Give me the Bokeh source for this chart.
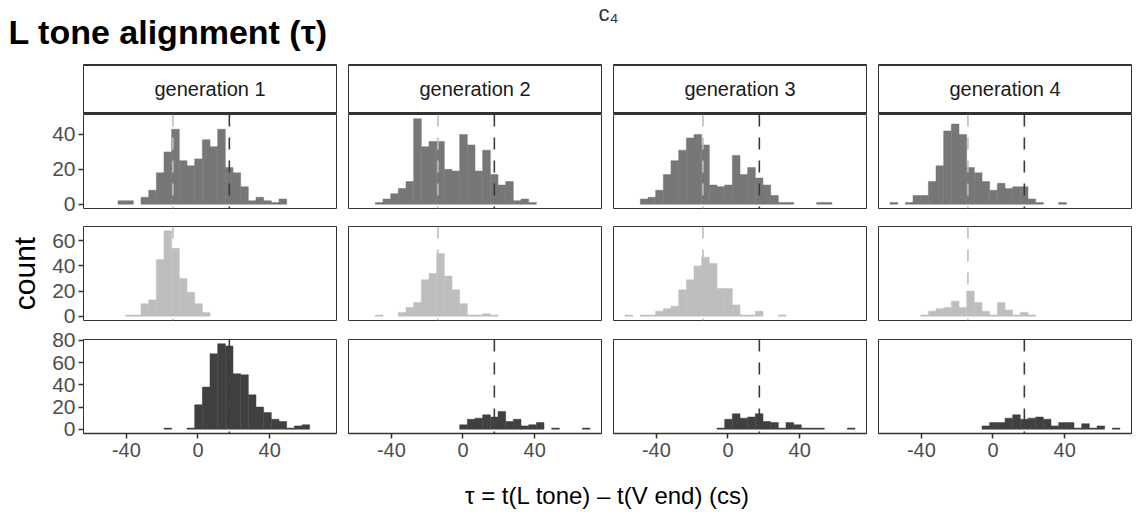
import numpy as np
from bokeh.plotting import figure
from bokeh.models import Range1d, FixedTicker, Span, ColumnDataSource
from bokeh.layouts import row, column
from bokeh.embed import file_html
from bokeh.resources import INLINE
from bokeh.core.properties import value

# ---------------- data ----------------
title_text = "L tone alignment (τ)"
corner_text = "c₄"
x_label = "τ = t(L tone) – t(V end) (cs)"
y_label = "count"
generations = ["generation 1", "generation 2", "generation 3", "generation 4"]
x_ticks = [-40, 0, 40]
y_ticks_top = [0, 20, 40]
y_ticks_mid = [0, 20, 40, 60]
y_ticks_bot = [0, 20, 40, 60, 80]

bin_start = -57.5
bin_width = 4.28
n_bins = 30
light_ref = -14.0   # light dashed reference line
dark_ref = 17.5     # dark dashed reference line

#            0  1  2  3  4  5  6  7  8  9 10 11 12 13 14 15 16 17 18 19 20 21 22 23 24 25 26 27 28 29
top_g1 = [0, 0, 0, 2, 2, 0, 4, 8, 18, 30, 43, 25, 22, 26, 37, 33, 43, 21, 18, 10, 2, 4, 2, 1, 3, 0, 0, 0, 0, 0]
top_g2 = [0, 0, 1, 3, 6, 9, 13, 49, 33, 36, 36, 20, 19, 40, 34, 19, 31, 17, 11, 13, 2, 3, 1, 0, 0, 0, 0, 0, 0, 0]
top_g3 = [0, 0, 3, 4, 8, 17, 25, 31, 38, 40, 34, 11, 10, 11, 28, 17, 21, 15, 11, 5, 1, 1, 0, 0, 0, 1, 1, 0, 0, 0]
top_g4 = [1, 0, 1, 5, 5, 13, 22, 42, 46, 40, 21, 18, 13, 8, 12, 9, 10, 10, 3, 1, 0, 0, 1, 0, 0, 0, 0, 0, 0, 0]

mid_g1 = [0, 0, 0, 0, 1, 1, 10, 13, 45, 68, 54, 30, 19, 10, 3, 0, 0, 0, 0, 0, 0, 0, 0, 0, 0, 0, 0, 0, 0, 0]
mid_g2 = [0, 0, 1, 0, 0, 3, 7, 11, 29, 34, 50, 32, 21, 10, 1, 1, 2, 1, 0, 0, 0, 0, 0, 0, 0, 0, 0, 0, 0, 0]
mid_g3 = [1, 0, 1, 1, 4, 6, 8, 21, 29, 40, 47, 42, 22, 22, 9, 1, 1, 4, 0, 0, 1, 0, 0, 0, 0, 0, 0, 0, 0, 0]
mid_g4 = [0, 0, 0, 0, 1, 4, 6, 7, 12, 7, 20, 11, 4, 1, 11, 5, 1, 3, 1, 0, 0, 0, 0, 0, 0, 0, 0, 0, 0, 0]

bot_g1 = [0, 0, 0, 0, 0, 0, 0, 0, 0, 1, 0, 0, 1, 22, 38, 68, 77, 75, 50, 49, 31, 20, 15, 9, 7, 1, 3, 4, 0, 0]
bot_g2 = [0, 0, 0, 0, 0, 0, 0, 0, 0, 0, 0, 0, 0, 4, 9, 10, 13, 11, 16, 7, 9, 3, 4, 6, 0, 1, 0, 0, 0, 1]
bot_g3 = [0, 0, 0, 0, 0, 0, 0, 0, 0, 0, 0, 0, 1, 9, 14, 10, 11, 14, 7, 6, 1, 6, 4, 1, 1, 1, 0, 0, 0, 1]
bot_g4 = [0, 0, 0, 0, 0, 0, 0, 0, 0, 0, 0, 0, 3, 6, 6, 10, 13, 9, 10, 11, 9, 3, 6, 6, 1, 5, 1, 3, 0, 1]

rows_counts = [
    [top_g1, top_g2, top_g3, top_g4],
    [mid_g1, mid_g2, mid_g3, mid_g4],
    [bot_g1, bot_g2, bot_g3, bot_g4],
]
rows_ticks = [y_ticks_top, y_ticks_mid, y_ticks_bot]
row_colors = ["#777777", "#BEBEBE", "#404040"]
rows_refs = [[(light_ref, "#BEBEBE"), (dark_ref, "#3A3A3A")],
             [(light_ref, "#BEBEBE")],
             [(dark_ref, "#3A3A3A")]]

# ---------------- layout constants ----------------
FONT = "Liberation Sans"
edges = bin_start + bin_width * np.arange(n_bins + 1)
span_x = edges[-1] - edges[0]
x_range = Range1d(edges[0] - 0.05 * span_x, edges[-1] + 0.05 * span_x)

col_widths = [342, 265, 265, 265]
col_left = [83, 6, 6, 6]
row_heights = [104, 111, 147]
row_top = [0, 8, 10]
row_bottom = [10, 9, 43]


def bare(fig):
    fig.grid.visible = False
    fig.background_fill_color = "white"
    fig.border_fill_color = "white"
    return fig


# header
header = figure(width=1139, height=62, x_range=Range1d(0, 1139), y_range=Range1d(62, 0),
                x_axis_location=None, y_axis_location=None, min_border=0,
                output_backend="svg", toolbar_location=None)
bare(header)
header.outline_line_color = None
header.text(x=[8], y=[31], text=[title_text], text_font=value(FONT), text_font_style="bold",
            text_font_size="34px", text_color="black", text_baseline="middle", text_align="left")
header.text(x=[598], y=[13], text=[corner_text], text_font=value(FONT),
            text_font_size="22px", text_color="#333333", text_baseline="middle", text_align="left")

# strips
strips = []
for ci, g in enumerate(generations):
    s = figure(width=col_widths[ci], height=52, x_range=Range1d(0, 1), y_range=Range1d(0, 1),
               x_axis_location=None, y_axis_location=None,
               min_border_left=col_left[ci], min_border_right=6, min_border_top=2, min_border_bottom=1,
               output_backend="svg", toolbar_location=None)
    bare(s)
    s.outline_line_color = "#333333"
    s.outline_line_width = 1
    s.add_layout(Span(location=0, dimension="width", line_color="#333333", line_width=3))
    s.add_layout(Span(location=1, dimension="width", line_color="#333333", line_width=3))
    s.text(x=[0.5], y=[0.5], text=[g], text_font=value(FONT), text_font_size="20px",
           text_color="#1A1A1A", text_align="center", text_baseline="middle")
    strips.append(s)

# panels
panel_rows = []
for ri in range(3):
    M = max(max(c) for c in rows_counts[ri])
    y_range = Range1d(-0.05 * M, 1.05 * M)
    figs = []
    for ci in range(4):
        counts = np.array(rows_counts[ri][ci])
        p = figure(width=col_widths[ci], height=row_heights[ri], x_range=x_range, y_range=y_range,
                   x_axis_location="below" if ri == 2 else None,
                   y_axis_location="left" if ci == 0 else None,
                   min_border_left=col_left[ci], min_border_right=6,
                   min_border_top=row_top[ri], min_border_bottom=row_bottom[ri],
                   output_backend="svg", toolbar_location=None)
        bare(p)
        p.outline_line_color = "#333333"
        p.outline_line_width = 1
        mask = counts > 0
        src = ColumnDataSource(dict(left=edges[:-1][mask], right=edges[1:][mask], top=counts[mask]))
        p.quad(left="left", right="right", bottom=0, top="top", source=src,
               fill_color=row_colors[ri], line_color=row_colors[ri], line_width=0.5)
        for loc, col in rows_refs[ri]:
            p.add_layout(Span(location=loc, dimension="height", line_color=col,
                              line_width=1.6, line_dash="12 11"))
        if ci == 0:
            ax = p.yaxis[0]
            ax.ticker = FixedTicker(ticks=rows_ticks[ri])
            ax.major_tick_out = 5
            ax.major_tick_in = 0
            ax.minor_tick_line_color = None
            ax.axis_line_color = None
            ax.major_tick_line_color = "#333333"
            ax.major_tick_line_width = 1.5
            ax.major_label_text_font = FONT
            ax.major_label_text_font_size = "21px"
            ax.major_label_text_color = "#4D4D4D"
            ax.major_label_standoff = 3
            if ri == 1:
                ax.axis_label = y_label
                ax.axis_label_text_font = FONT
                ax.axis_label_text_font_size = "30px"
                ax.axis_label_text_font_style = "normal"
                ax.axis_label_text_color = "black"
                ax.axis_label_standoff = 8
        if ri == 2:
            ax = p.xaxis[0]
            ax.ticker = FixedTicker(ticks=x_ticks)
            ax.major_label_overrides = {t: str(t) for t in x_ticks}
            ax.major_tick_out = 5
            ax.major_tick_in = 0
            ax.minor_tick_line_color = None
            ax.axis_line_color = "#333333"
            ax.axis_line_width = 1.5
            ax.major_tick_line_color = "#333333"
            ax.major_tick_line_width = 1.5
            ax.major_label_text_font = FONT
            ax.major_label_text_font_size = "20px"
            ax.major_label_text_color = "#4D4D4D"
            ax.major_label_standoff = 4
        figs.append(p)
    panel_rows.append(figs)

# footer
footer = figure(width=1139, height=42, x_range=Range1d(0, 1139), y_range=Range1d(42, 0),
                x_axis_location=None, y_axis_location=None, min_border=0,
                output_backend="svg", toolbar_location=None)
bare(footer)
footer.outline_line_color = None
footer.text(x=[607], y=[19], text=[x_label], text_font=value(FONT), text_font_size="24px",
            text_color="black", text_align="center", text_baseline="middle")

layout = column(header, row(*strips), row(*panel_rows[0]), row(*panel_rows[1]),
                row(*panel_rows[2]), footer)

open("out.html", "w").write(file_html(layout, INLINE))
